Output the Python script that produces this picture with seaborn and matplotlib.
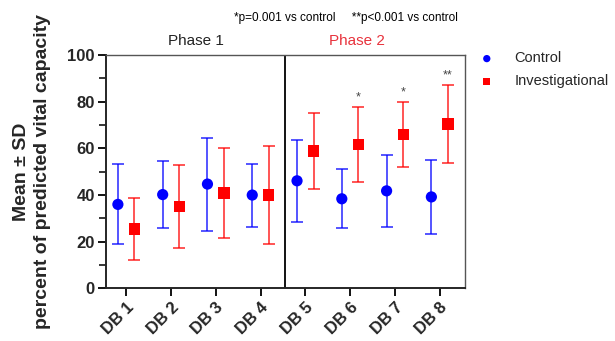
import numpy as np
import pandas as pd
import matplotlib
matplotlib.use("Agg")
import matplotlib.pyplot as plt
import seaborn as sns
from matplotlib.ticker import MultipleLocator

# values
visits = ["DB 1", "DB 2", "DB 3", "DB 4", "DB 5", "DB 6", "DB 7", "DB 8"]
control_mean = [36.0, 40.2, 44.7, 40.0, 46.1, 38.4, 41.8, 39.2]
control_sd = [17.1, 14.4, 19.9, 13.5, 17.6, 12.7, 15.5, 15.7]
invest_mean = [25.5, 35.2, 40.9, 40.0, 58.9, 61.8, 65.8, 70.4]
invest_sd = [13.2, 17.8, 19.2, 21.1, 16.2, 16.0, 14.0, 16.6]
stars = ["", "", "", "", "", "*", "*", "**"]

sns.set_style("ticks")
plt.rcParams["font.family"] = ["Liberation Sans", "DejaVu Sans"]

df = pd.DataFrame({
    "visit": visits * 2,
    "mean": control_mean + invest_mean,
    "sd": control_sd + invest_sd,
    "group": ["Control"] * 8 + ["Investigational"] * 8,
})

fig = plt.figure(figsize=(6.15, 3.41), dpi=100)
ax = fig.add_axes([0.1724, 0.154, 0.584, 0.685])

x = np.arange(len(visits))
offset = 0.185
styles = {"Control": ("blue", "o", -offset), "Investigational": ("red", "s", offset)}

for grp, (col, mk, dx) in styles.items():
    sub = df[df["group"] == grp]
    ax.errorbar(x + dx, sub["mean"], yerr=sub["sd"], fmt="none", ecolor=col,
                elinewidth=1.1, capsize=4, capthick=1.1, alpha=0.85, zorder=2)
    sns.scatterplot(x=x + dx, y=sub["mean"].values, ax=ax, color=col, marker=mk,
                    s=65, edgecolor="none", label=grp, zorder=3)

# significance markers above investigational bars
for i, s in enumerate(stars):
    if s:
        ax.text(x[i] + offset, invest_mean[i] + invest_sd[i] + 1.5, s, ha="center",
                va="bottom", fontsize=9, color="#444444")

ax.axvline(3.55, color="black", lw=1.3)
ax.set_xlim(-0.45, 7.57)
ax.set_ylim(0, 100)
ax.set_xticks(x)
ax.set_xticklabels(visits, rotation=45, ha="right", rotation_mode="anchor",
                   fontweight="bold", fontsize=12)
ax.yaxis.set_major_locator(MultipleLocator(20))
ax.yaxis.set_minor_locator(MultipleLocator(10))
for lab in ax.get_yticklabels():
    lab.set_fontweight("bold")
    lab.set_fontsize(12)
ax.tick_params(axis="both", which="major", length=6, width=1.3, color="black", pad=2)
ax.tick_params(axis="y", which="minor", length=5, width=1.3)
ax.set_ylabel("Mean \u00b1 SD\npercent of predicted vital capacity",
              fontweight="bold", fontsize=14, labelpad=12, linespacing=1.25)
for side in ["left", "bottom"]:
    ax.spines[side].set_linewidth(1.4)
for side in ["top", "right"]:
    ax.spines[side].set_visible(True)
    ax.spines[side].set_linewidth(1.0)
    ax.spines[side].set_color("#555555")

ax.text(1.55, 103, "Phase 1", ha="center", va="bottom", fontsize=11, color="#222222")
ax.text(5.15, 103, "Phase 2", ha="center", va="bottom", fontsize=11, color="#e8323c")
fig.text(0.562, 0.93, "*p=0.001 vs control     **p<0.001 vs control", ha="center",
         va="bottom", fontsize=8.5, color="black")

leg = ax.legend(loc="upper left", bbox_to_anchor=(0.983, 1.071), frameon=False,
                fontsize=10.5, handletextpad=0.9, markerscale=0.65, labelspacing=0.6)

fig.savefig("out.png", dpi=100)
